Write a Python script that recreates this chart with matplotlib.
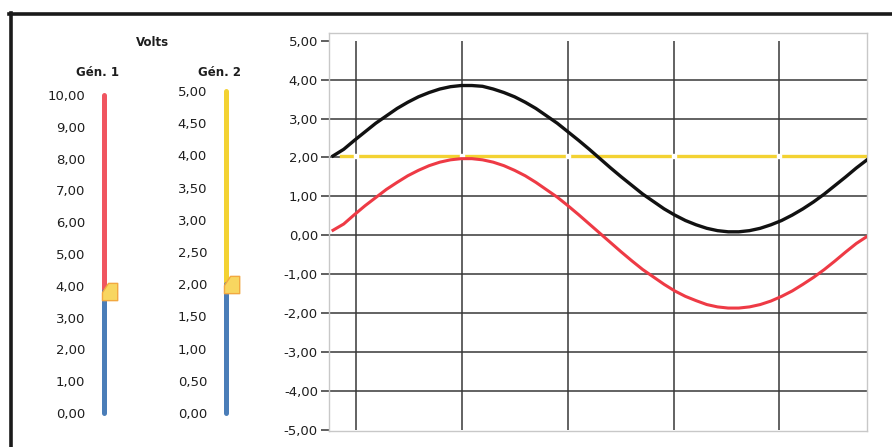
#! /usr/bin/env python

# Plotting
import matplotlib
matplotlib.use('Agg')
import matplotlib.pyplot as plt
from matplotlib.lines import Line2D

# Sample positions along one period of the signal (percent of the sweep)
sample_x = [0, 2, 4, 6, 8, 10, 12, 14, 16, 18, 20, 22, 24, 26, 28, 30,
            32, 34, 36, 38, 40, 42, 44, 46, 48, 50, 52, 54, 56, 58, 60,
            62, 64, 66, 68, 70, 72, 74, 76, 78, 80, 82, 84, 86, 88, 90,
            92, 94, 96, 98, 100]

# Sum signal (black), volts
sum_signal = [2.04, 2.21, 2.44, 2.66, 2.88, 3.07, 3.26, 3.42, 3.56, 3.67,
              3.76, 3.82, 3.85, 3.85, 3.83, 3.76, 3.67, 3.56, 3.42, 3.26,
              3.07, 2.88, 2.66, 2.44, 2.21, 1.97, 1.73, 1.50, 1.28, 1.06,
              0.87, 0.68, 0.52, 0.38, 0.27, 0.18, 0.12, 0.09, 0.09, 0.12,
              0.18, 0.27, 0.38, 0.52, 0.68, 0.86, 1.06, 1.28, 1.50, 1.73,
              1.94]

# Generator 1 signal (red), volts
gen1_signal = [0.13, 0.29, 0.53, 0.76, 0.97, 1.18, 1.36, 1.53, 1.67, 1.79,
               1.88, 1.94, 1.97, 1.97, 1.94, 1.88, 1.79, 1.67, 1.53, 1.36,
               1.17, 0.98, 0.76, 0.53, 0.29, 0.05, -0.19, -0.43, -0.66,
               -0.88, -1.07, -1.26, -1.43, -1.57, -1.68, -1.78, -1.84,
               -1.87, -1.87, -1.84, -1.78, -1.69, -1.57, -1.43, -1.26,
               -1.08, -0.88, -0.66, -0.43, -0.21, -0.03]

# Generator 2 level (yellow), constant
gen2_x = [1.5, 100]
gen2_signal = [2.03, 2.03]

# Slider settings of the two generators
gen1_value = 3.85
gen2_value = 2.0

# Gauge scales
gauge1_ticks = [0, 1, 2, 3, 4, 5, 6, 7, 8, 9, 10]
gauge2_ticks = [0, 0.5, 1, 1.5, 2, 2.5, 3, 3.5, 4, 4.5, 5]

# Chart scale
chart_yticks = [-5, -4, -3, -2, -1, 0, 1, 2, 3, 4, 5]
chart_xgrid = [4.3, 24.2, 44.0, 63.9, 83.6]

# Colours
red = '#ee3a45'
gauge_red = '#f05560'
blue = '#4a7db8'
yellow = '#f3d232'
grid_col = '#383838'
text_col = '#1e1e1e'

W, H = 892, 447
fig = plt.figure(figsize=(W / 100, H / 100), dpi=100)
plt.rcParams['font.family'] = ['DejaVu Sans']


def px_axes(left, top, right, bottom):
    """Axes placed in pixel coordinates of the figure."""
    return fig.add_axes([left / W, 1 - bottom / H,
                         (right - left) / W, (bottom - top) / H])


def comma(v):
    return ('%.2f' % v).replace('.', ',')


# Pointer shape of the gauge sliders (marker units)
pointer = [(-2, -1), (4, 8), (13, 8), (13, -9), (-2, -9), (-2, -1)]


def gauge(left, top, bottom, ticks, value, label, label_x):
    ax = px_axes(left, top, left + 10, bottom)
    ax.set_xlim(0, 1)
    ax.set_ylim(ticks[0], ticks[-1])
    # Filled part (blue) and remaining part (red/yellow)
    top_col = gauge_red if ticks[-1] == 10 else yellow
    ax.plot([0.5, 0.5], [value, ticks[-1]], color=top_col, lw=3.6,
            solid_capstyle='round', clip_on=False)
    ax.plot([0.5, 0.5], [ticks[0], value], color=blue, lw=3.6,
            solid_capstyle='round', clip_on=False)
    ax.plot([0.5], [value], marker=pointer, ms=19, mfc='#f8d660',
            mec='#f2a840', mew=1, clip_on=False, zorder=5)
    ax.set_yticks(ticks)
    ax.set_yticklabels([comma(t) for t in ticks])
    ax.tick_params(axis='y', length=0, pad=10, labelsize=9.5,
                   labelcolor=text_col)
    ax.set_xticks([])
    for s in ax.spines.values():
        s.set_visible(False)
    ax.patch.set_alpha(0)
    fig.text(label_x / W, 1 - 73 / H, label, ha='center', va='center',
             fontsize=8.5, fontweight='bold', color=text_col)


# Left side gauges
fig.text(152 / W, 1 - 43 / H, 'Volts', ha='center', va='center',
         fontsize=8.5, fontweight='bold', color=text_col)
gauge(99, 95, 413, gauge1_ticks, gen1_value, 'Gén. 1', 98)
gauge(221, 91, 413, gauge2_ticks, gen2_value, 'Gén. 2', 220)

# Chart area
ax = px_axes(329, 33, 867, 431)
ax.set_xlim(-0.75, 100)
ax.set_ylim(-5.03, 5.2)

# Grid
ax.hlines(chart_yticks[1:-1], -0.75, 100, color=grid_col, lw=1.1, zorder=1)
ax.vlines(chart_xgrid, chart_yticks[0], chart_yticks[-1], color=grid_col,
          lw=1.1, zorder=1)

# Signals
ax.plot(gen2_x, gen2_signal, color=yellow, lw=2.4, zorder=2)
ax.plot(chart_xgrid, [gen2_signal[0]] * len(chart_xgrid), 's', color='white',
        ms=2.2, zorder=2.5)
ax.plot(sample_x, gen1_signal, color=red, lw=2.2, zorder=3)
ax.plot(sample_x, sum_signal, color='#111111', lw=2.4, zorder=4)

ax.set_xticks([])
ax.set_yticks(chart_yticks)
ax.set_yticklabels([comma(t) for t in chart_yticks])
ax.tick_params(axis='y', length=6, width=1.2, color='#444444', pad=2,
               labelsize=9.5, labelcolor=text_col)
for s in ax.spines.values():
    s.set_color('#c8c8c8')
    s.set_linewidth(1)

# Outer black frame (top and left edges)
fig.add_artist(Line2D([9 / W, 1], [1 - 13.5 / H, 1 - 13.5 / H],
                      color='#1a1a1a', lw=2.6))
fig.add_artist(Line2D([10.5 / W, 10.5 / W], [0, 1 - 12.5 / H],
                      color='#1a1a1a', lw=2.6))

fig.savefig('out.png', dpi=100)
